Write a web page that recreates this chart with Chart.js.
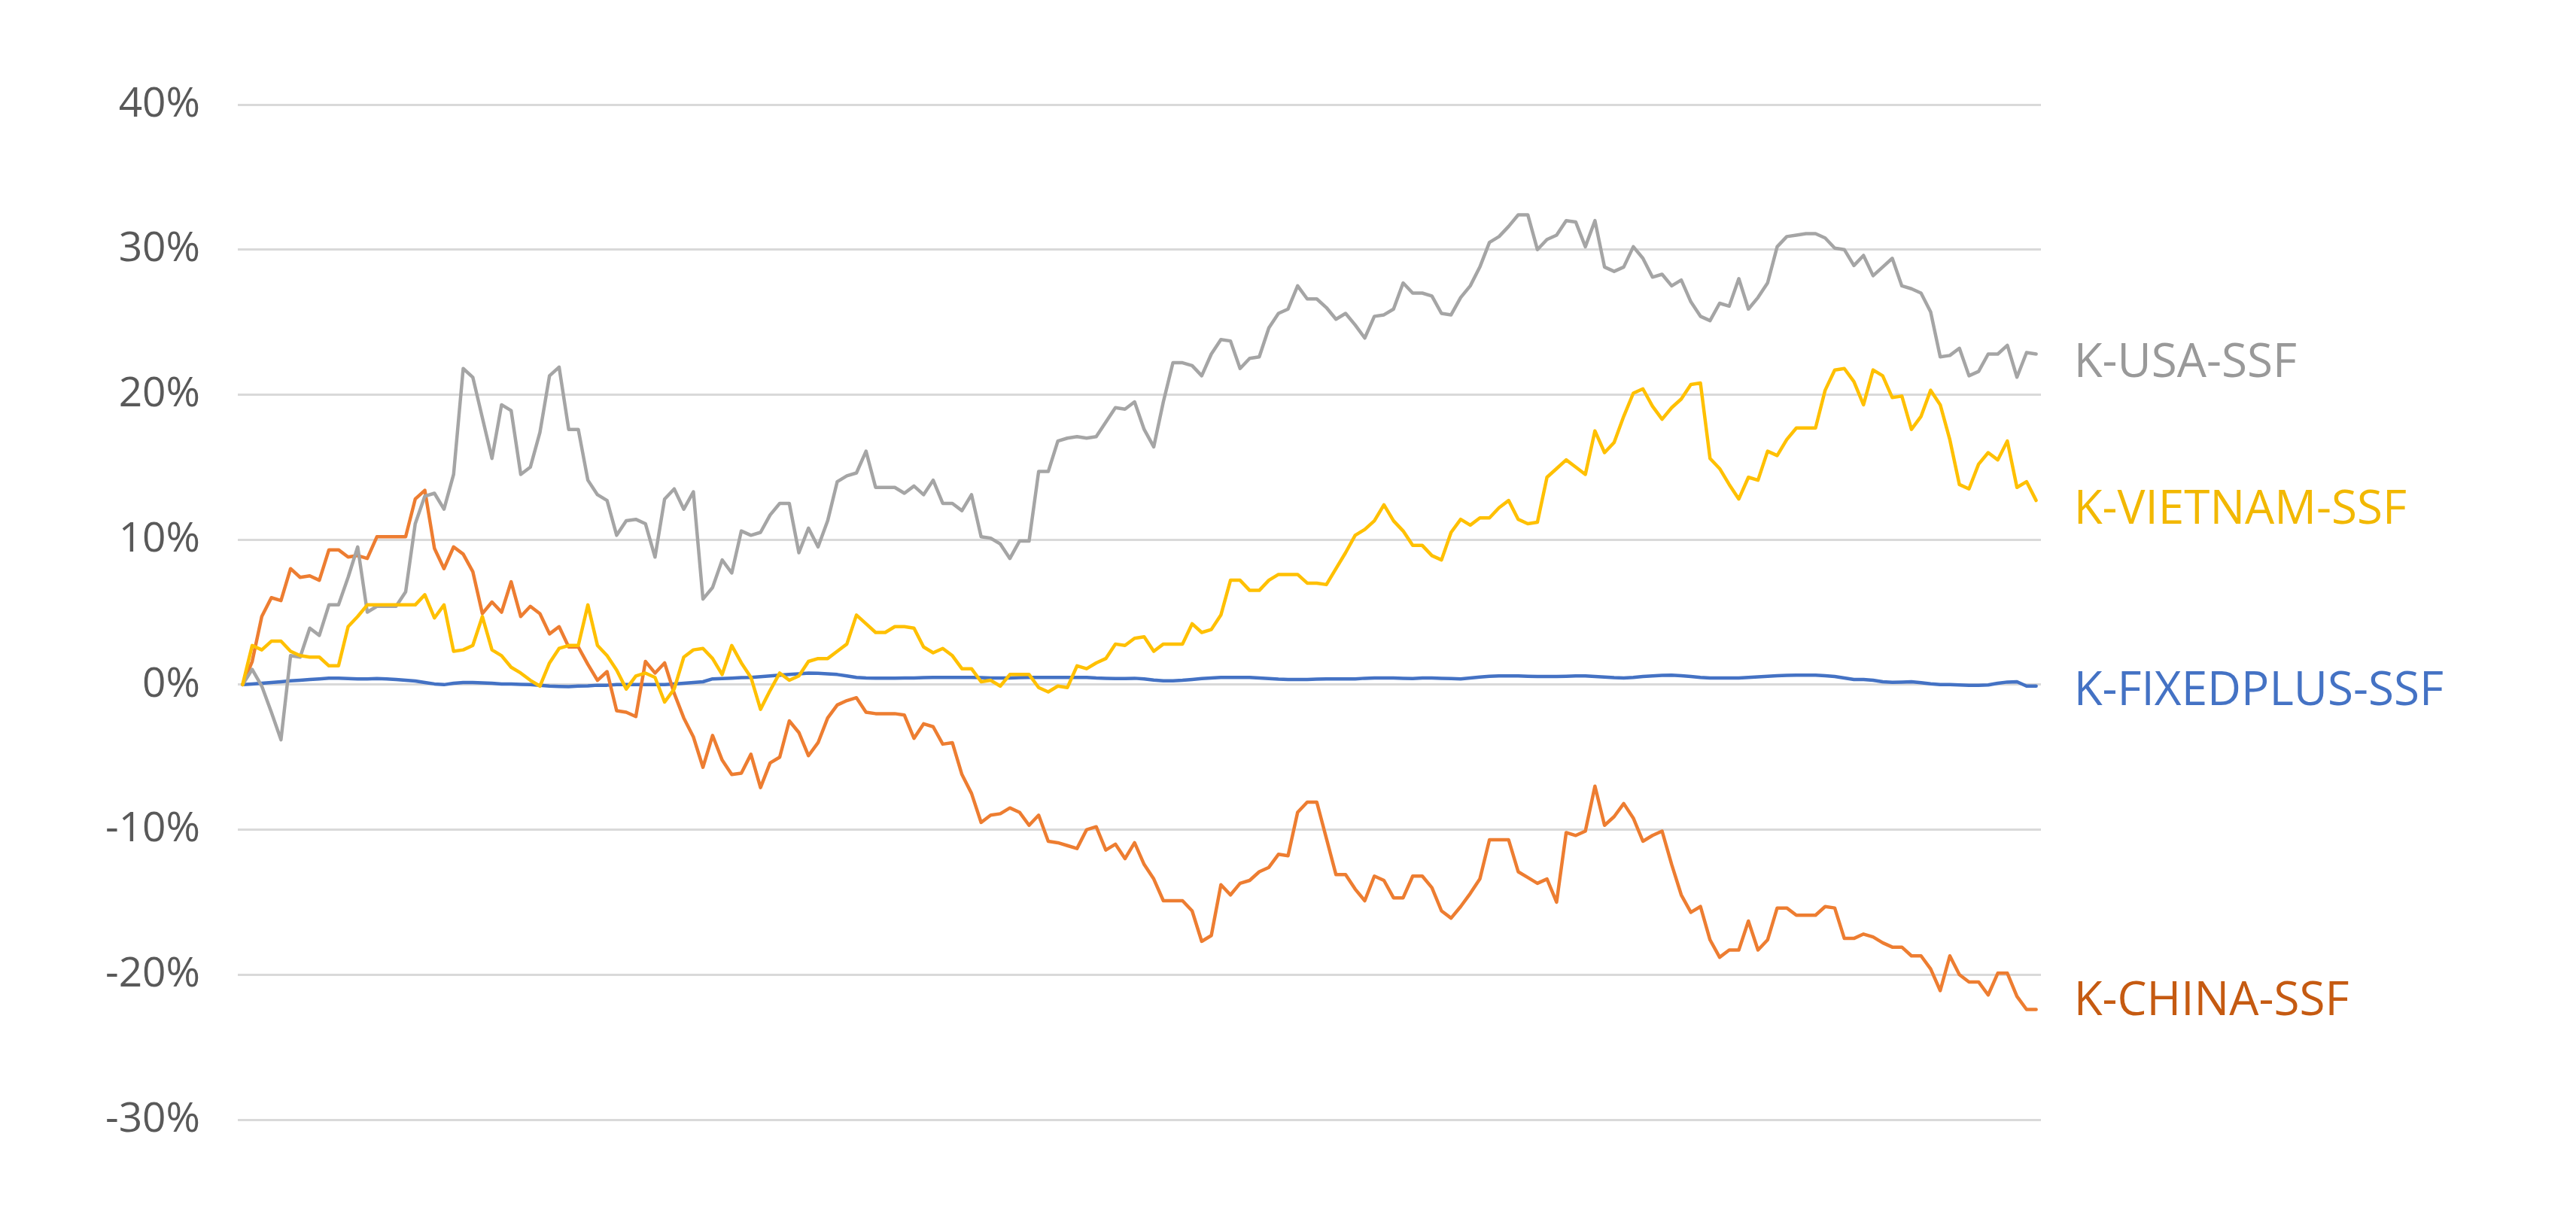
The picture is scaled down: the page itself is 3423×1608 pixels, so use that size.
<!DOCTYPE html>
<html>
<head>
<meta charset="utf-8">
<script src="https://cdn.jsdelivr.net/npm/chart.js@4.4.1/dist/chart.umd.min.js"></script>
<style>
  html, body { margin: 0; padding: 0; background: #fff; }
</style>
</head>
<body>
<canvas id="chart" width="3423" height="1608"></canvas>
<script>
// cumulative return (%) per week
const usa = [
  0, 1.05, -0.1, -1.9, -3.8, 2.0, 1.9, 3.9, 3.4, 5.5,
  5.5, 7.4, 9.5, 5.0, 5.4, 5.4, 5.4, 6.4, 11.1, 13.0,
  13.2, 12.1, 14.5, 21.8, 21.2, 18.4, 15.6, 19.3, 18.9, 14.5,
  15.0, 17.4, 21.3, 21.9, 17.6, 17.6, 14.1, 13.1, 12.7, 10.3,
  11.3, 11.4, 11.1, 8.8, 12.8, 13.5, 12.1, 13.3, 5.9, 6.7,
  8.6, 7.7, 10.6, 10.3, 10.5, 11.7, 12.5, 12.5, 9.1, 10.8,
  9.5, 11.3, 14.0, 14.4, 14.6, 16.1, 13.6, 13.6, 13.6, 13.2,
  13.7, 13.1, 14.1, 12.5, 12.5, 12.0, 13.1, 10.2, 10.1, 9.7,
  8.7, 9.9, 9.9, 14.7, 14.7, 16.8, 17.0, 17.1, 17.0, 17.1,
  18.1, 19.1, 19.0, 19.5, 17.6, 16.4, 19.5, 22.2, 22.2, 22.0,
  21.3, 22.8, 23.8, 23.7, 21.8, 22.5, 22.6, 24.6, 25.6, 25.9,
  27.5, 26.6, 26.6, 26.0, 25.2, 25.6, 24.8, 23.9, 25.4, 25.5,
  25.9, 27.7, 27.0, 27.0, 26.8, 25.6, 25.5, 26.7, 27.5, 28.8,
  30.5, 30.9, 31.6, 32.4, 32.4, 30.0, 30.7, 31.0, 32.0, 31.9,
  30.2, 32.0, 28.8, 28.5, 28.8, 30.2, 29.4, 28.1, 28.3, 27.5,
  27.9, 26.4, 25.4, 25.1, 26.3, 26.1, 28.0, 25.9, 26.7, 27.7,
  30.2, 30.9, 31.0, 31.1, 31.1, 30.8, 30.1, 30.0, 28.9, 29.6,
  28.2, 28.8, 29.4, 27.5, 27.3, 27.0, 25.7, 22.6, 22.7, 23.2,
  21.3, 21.6, 22.8, 22.8, 23.4, 21.2, 22.9, 22.8
];

const vietnam = [
  0, 2.7, 2.4, 3.0, 3.0, 2.3, 2.0, 1.9, 1.9, 1.3,
  1.3, 4.0, 4.7, 5.5, 5.5, 5.5, 5.5, 5.5, 5.5, 6.2,
  4.6, 5.5, 2.3, 2.4, 2.7, 4.7, 2.4, 2.0, 1.2, 0.8,
  0.3, -0.1, 1.5, 2.5, 2.7, 2.7, 5.5, 2.7, 2.0, 1.0,
  -0.3, 0.6, 0.8, 0.5, -1.2, -0.3, 1.9, 2.4, 2.5, 1.8,
  0.7, 2.7, 1.5, 0.5, -1.7, -0.4, 0.8, 0.3, 0.6, 1.6,
  1.8, 1.8, 2.3, 2.8, 4.8, 4.2, 3.6, 3.6, 4.0, 4.0,
  3.9, 2.6, 2.2, 2.5, 2.0, 1.1, 1.1, 0.2, 0.3, -0.1,
  0.7, 0.7, 0.7, -0.2, -0.5, -0.1, -0.2, 1.3, 1.1, 1.5,
  1.8, 2.8, 2.7, 3.2, 3.3, 2.3, 2.8, 2.8, 2.8, 4.2,
  3.6, 3.8, 4.8, 7.2, 7.2, 6.5, 6.5, 7.2, 7.6, 7.6,
  7.6, 7.0, 7.0, 6.9, 8.0, 9.1, 10.3, 10.7, 11.3, 12.4,
  11.3, 10.6, 9.6, 9.6, 8.9, 8.6, 10.5, 11.4, 11.0, 11.5,
  11.5, 12.2, 12.7, 11.4, 11.1, 11.2, 14.3, 14.9, 15.5, 15.0,
  14.5, 17.5, 16.0, 16.7, 18.5, 20.1, 20.4, 19.2, 18.3, 19.1,
  19.7, 20.7, 20.8, 15.6, 14.9, 13.8, 12.8, 14.3, 14.1, 16.1,
  15.8, 16.9, 17.7, 17.7, 17.7, 20.3, 21.7, 21.8, 20.9, 19.3,
  21.7, 21.3, 19.8, 19.9, 17.6, 18.5, 20.3, 19.3, 16.9, 13.8,
  13.5, 15.2, 16.0, 15.5, 16.8, 13.6, 14.0, 12.7
];

const fixedplus = [
  0, 0.05, 0.1, 0.15, 0.2, 0.26, 0.3, 0.35, 0.4, 0.45,
  0.45, 0.42, 0.4, 0.4, 0.42, 0.4, 0.35, 0.3, 0.25, 0.15,
  0.05, 0.0, 0.1, 0.15, 0.15, 0.12, 0.1, 0.05, 0.05, 0.02,
  0.0, -0.05, -0.1, -0.12, -0.14, -0.1, -0.08, -0.04, -0.04, 0.0,
  0.0, 0.0, 0.0, 0.0, 0.0, 0.05, 0.1, 0.15, 0.2, 0.4,
  0.42, 0.45, 0.48, 0.5, 0.55, 0.6, 0.65, 0.7, 0.75, 0.8,
  0.78, 0.75, 0.7, 0.6, 0.5, 0.46, 0.45, 0.45, 0.45, 0.46,
  0.46, 0.48, 0.5, 0.5, 0.5, 0.5, 0.5, 0.48, 0.46, 0.46,
  0.46, 0.48, 0.5, 0.5, 0.5, 0.5, 0.5, 0.5, 0.5, 0.46,
  0.44, 0.42, 0.42, 0.44, 0.4, 0.32, 0.26, 0.26, 0.3, 0.36,
  0.42, 0.46, 0.5, 0.5, 0.5, 0.5, 0.46, 0.42, 0.38, 0.36,
  0.36, 0.36, 0.38, 0.4, 0.4, 0.4, 0.4, 0.44, 0.46, 0.46,
  0.46, 0.44, 0.42, 0.46, 0.46, 0.44, 0.42, 0.4, 0.46, 0.52,
  0.58, 0.6, 0.6, 0.6, 0.58, 0.56, 0.56, 0.56, 0.58, 0.6,
  0.6, 0.56, 0.52, 0.48, 0.46, 0.5, 0.56, 0.6, 0.64, 0.66,
  0.62, 0.56, 0.5, 0.46, 0.46, 0.46, 0.46, 0.5, 0.54, 0.58,
  0.62, 0.64, 0.66, 0.66, 0.66, 0.62, 0.56, 0.46, 0.36, 0.36,
  0.3, 0.2, 0.16, 0.18, 0.2, 0.14, 0.06, 0.0, 0.0, -0.02,
  -0.04, -0.04, -0.02, 0.1, 0.18, 0.2, -0.1, -0.1
];

const china = [
  0, 1.6, 4.7, 6.0, 5.8, 8.0, 7.4, 7.5, 7.2, 9.3,
  9.3, 8.8, 8.9, 8.7, 10.2, 10.2, 10.2, 10.2, 12.8, 13.4,
  9.4, 8.0, 9.5, 9.0, 7.8, 4.9, 5.7, 5.0, 7.1, 4.7,
  5.4, 4.9, 3.5, 4.0, 2.6, 2.6, 1.4, 0.3, 0.9, -1.8,
  -1.9, -2.2, 1.6, 0.8, 1.5, -0.6, -2.3, -3.6, -5.7, -3.5,
  -5.2, -6.2, -6.1, -4.8, -7.1, -5.4, -5.0, -2.5, -3.3, -4.9,
  -4.0, -2.3, -1.4, -1.1, -0.9, -1.9, -2.0, -2.0, -2.0, -2.1,
  -3.7, -2.7, -2.9, -4.1, -4.0, -6.2, -7.5, -9.5, -9.0, -8.9,
  -8.5, -8.8, -9.7, -9.0, -10.8, -10.9, -11.1, -11.3, -10.0, -9.8,
  -11.4, -11.0, -12.0, -10.9, -12.4, -13.4, -14.9, -14.9, -14.9, -15.6,
  -17.7, -17.3, -13.8, -14.5, -13.7, -13.5, -12.9, -12.6, -11.7, -11.8,
  -8.8, -8.1, -8.1, -10.6, -13.1, -13.1, -14.1, -14.9, -13.2, -13.5,
  -14.7, -14.7, -13.2, -13.2, -14.0, -15.6, -16.1, -15.3, -14.4, -13.4,
  -10.7, -10.7, -10.7, -12.9, -13.3, -13.7, -13.4, -15.0, -10.2, -10.4,
  -10.1, -7.0, -9.7, -9.1, -8.2, -9.2, -10.8, -10.4, -10.1, -12.4,
  -14.5, -15.7, -15.3, -17.6, -18.8, -18.3, -18.3, -16.3, -18.3, -17.6,
  -15.4, -15.4, -15.9, -15.9, -15.9, -15.3, -15.4, -17.5, -17.5, -17.2,
  -17.4, -17.8, -18.1, -18.1, -18.7, -18.7, -19.6, -21.1, -18.7, -20.0,
  -20.5, -20.5, -21.4, -19.9, -19.9, -21.5, -22.4, -22.4
];

const weeks = usa.map((_, i) => i + 1);

const FONT = "'Open Sans', 'Noto Sans', sans-serif";

// last series in Excel sits on top, so Vietnam goes first here (Chart.js draws index 0 last)
// dy = small nudge of the end label, as placed in the original
const series = [
  { label: 'K-VIETNAM-SSF',   data: vietnam,   line: '#FFC000', text: '#F2B800', dy: 13 },
  { label: 'K-USA-SSF',       data: usa,       line: '#A5A5A5', text: '#999999', dy: 13 },
  { label: 'K-CHINA-SSF',     data: china,     line: '#ED7D31', text: '#C55A11', dy: -10 },
  { label: 'K-FIXEDPLUS-SSF', data: fixedplus, line: '#4472C4', text: '#4472C4', dy: 8 },
];

// series name written right of the last point, like Excel data labels
const endLabels = {
  id: 'endLabels',
  afterDatasetsDraw(chart) {
    const ctx = chart.ctx;
    ctx.save();
    ctx.font = '62px ' + FONT;
    ctx.textAlign = 'left';
    ctx.textBaseline = 'middle';
    chart.data.datasets.forEach((ds, i) => {
      const pts = chart.getDatasetMeta(i).data;
      const last = pts[pts.length - 1];
      ctx.fillStyle = series[i].text;
      ctx.fillText(ds.label, last.x + 50, last.y + series[i].dy);
    });
    ctx.restore();
  }
};

new Chart(document.getElementById('chart'), {
  type: 'line',
  data: {
    labels: weeks,
    datasets: series.map(s => ({
      label: s.label,
      data: s.data,
      borderColor: s.line,
      backgroundColor: s.line,
      borderWidth: 4.5,
      pointRadius: 0,
      tension: 0,
      borderJoinStyle: 'round',
      borderCapStyle: 'round',
      fill: false,
    }))
  },
  options: {
    responsive: false,
    animation: false,
    layout: { padding: { left: 0, right: 711, top: 139, bottom: 120 } },
    plugins: { legend: { display: false }, tooltip: { enabled: false } },
    scales: {
      x: { type: 'category', display: false, offset: true },
      y: {
        min: -30, max: 40,
        ticks: {
          stepSize: 10,
          padding: 50,
          color: '#595959',
          font: { family: FONT, size: 55 },
          callback: v => v + '%'
        },
        grid: { color: '#D9D9D9', lineWidth: 3, drawTicks: false },
        border: { display: false },
        afterFit: axis => { axis.width = 316; }
      }
    }
  },
  plugins: [endLabels]
});
</script>
</body>
</html>
